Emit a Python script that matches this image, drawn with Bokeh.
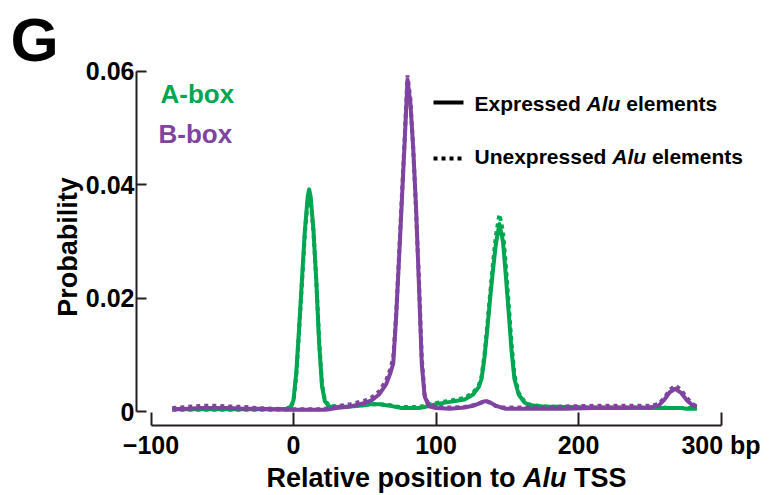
import math
from bokeh.plotting import figure
from bokeh.models import Range1d, Label, FixedTicker
from bokeh.embed import file_html
from bokeh.resources import INLINE

# ---------------- data ----------------
positions = [-85, -75, -65, -55, -45, -35, -25, -15, -5, -2, 0, 2, 4, 6, 8, 10, 11, 12, 14, 16,
             18, 20, 22, 25, 30, 40, 50, 55, 60, 65, 68, 70, 72, 74, 76, 78, 80, 82, 84, 86,
             88, 90, 92, 95, 100, 110, 120, 126, 130, 132, 134, 136, 138, 140, 142, 144.5, 147, 149, 151, 153,
             155, 158, 162, 166, 175, 190, 210, 230, 250, 256, 260, 264, 268, 272, 276, 280, 283]

a_box_expressed = [0.0004, 0.0004, 0.0004, 0.0004, 0.0004, 0.0004, 0.0004, 0.0004, 0.0005, 0.0008,
                   0.0020, 0.0070, 0.0150, 0.0235, 0.0320, 0.0380, 0.0392, 0.0380, 0.0320, 0.0230,
                   0.0120, 0.0045, 0.0018, 0.0009, 0.0008, 0.0009, 0.0011, 0.0013, 0.0013, 0.0011,
                   0.0010, 0.0009, 0.0008, 0.0007, 0.0006, 0.0006, 0.0006, 0.0006, 0.0006, 0.0006,
                   0.0006, 0.0007, 0.0008, 0.0010, 0.0013, 0.0017, 0.0021, 0.0030, 0.0043, 0.0058,
                   0.0095, 0.0145, 0.0200, 0.0250, 0.0295, 0.0331, 0.0300, 0.0240, 0.0175, 0.0108,
                   0.0058, 0.0030, 0.0016, 0.0011, 0.0009, 0.0008, 0.0007, 0.0007, 0.0006, 0.0006,
                   0.0006, 0.0006, 0.0006, 0.0006, 0.0005, 0.0005, 0.0005]

a_box_unexpressed = [0.0003, 0.0003, 0.0003, 0.0003, 0.0003, 0.0003, 0.0003, 0.0003, 0.0004, 0.0007,
                     0.0018, 0.0065, 0.0145, 0.0230, 0.0315, 0.0372, 0.0385, 0.0375, 0.0318, 0.0232,
                     0.0125, 0.0048, 0.0020, 0.0010, 0.0009, 0.0010, 0.0012, 0.0013, 0.0013, 0.0012,
                     0.0011, 0.0010, 0.0009, 0.0008, 0.0008, 0.0008, 0.0008, 0.0008, 0.0008, 0.0008,
                     0.0008, 0.0009, 0.0010, 0.0012, 0.0015, 0.0019, 0.0024, 0.0033, 0.0046, 0.0062,
                     0.0100, 0.0152, 0.0208, 0.0262, 0.0310, 0.0348, 0.0318, 0.0258, 0.0190, 0.0120,
                     0.0065, 0.0033, 0.0018, 0.0012, 0.0009, 0.0008, 0.0007, 0.0007, 0.0007, 0.0007,
                     0.0007, 0.0006, 0.0006, 0.0006, 0.0006, 0.0006, 0.0006]

b_box_expressed = [0.0004, 0.0005, 0.0006, 0.0006, 0.0006, 0.0005, 0.0005, 0.0004, 0.0003, 0.0003,
                   0.0003, 0.0003, 0.0003, 0.0003, 0.0003, 0.0003, 0.0003, 0.0003, 0.0003, 0.0003,
                   0.0003, 0.0003, 0.0003, 0.0004, 0.0006, 0.0009, 0.0015, 0.0020, 0.0030, 0.0048,
                   0.0068, 0.0085, 0.0165, 0.0266, 0.0370, 0.0475, 0.0586, 0.0545, 0.0465, 0.0360,
                   0.0225, 0.0085, 0.0027, 0.0009, 0.0006, 0.0005, 0.0007, 0.0010, 0.0014, 0.0016,
                   0.0018, 0.0018, 0.0016, 0.0013, 0.0010, 0.0008, 0.0006, 0.0005, 0.0005, 0.0005,
                   0.0005, 0.0005, 0.0005, 0.0005, 0.0005, 0.0005, 0.0006, 0.0006, 0.0007, 0.0010,
                   0.0020, 0.0034, 0.0040, 0.0033, 0.0020, 0.0011, 0.0008]

b_box_unexpressed = [0.0006, 0.0008, 0.0010, 0.0010, 0.0009, 0.0008, 0.0006, 0.0005, 0.0004, 0.0004,
                     0.0004, 0.0004, 0.0004, 0.0004, 0.0004, 0.0004, 0.0004, 0.0004, 0.0004, 0.0004,
                     0.0004, 0.0004, 0.0005, 0.0006, 0.0009, 0.0013, 0.0019, 0.0025, 0.0035, 0.0055,
                     0.0075, 0.0095, 0.0170, 0.0272, 0.0378, 0.0482, 0.0593, 0.0552, 0.0465, 0.0355,
                     0.0235, 0.0095, 0.0030, 0.0011, 0.0008, 0.0007, 0.0008, 0.0011, 0.0014, 0.0016,
                     0.0017, 0.0017, 0.0015, 0.0012, 0.0010, 0.0008, 0.0007, 0.0007, 0.0007, 0.0007,
                     0.0007, 0.0007, 0.0007, 0.0007, 0.0007, 0.0009, 0.0010, 0.0010, 0.0010, 0.0013,
                     0.0023, 0.0038, 0.0046, 0.0038, 0.0024, 0.0013, 0.0009]

x_ticks = [-100, 0, 100, 200, 300]
x_tick_labels = ["\u2212100", "0", "100", "200", "300 bp"]
y_ticks = [0, 0.02, 0.04, 0.06]
y_tick_labels = ["0", "0.02", "0.04", "0.06"]

GREEN = "#00a651"
PURPLE = "#7e44a0"
INK = "#231f20"
FONT = "Liberation Sans"

# ---------------- layout (page pixels) ----------------
X0_PX, X_PER = 293.0, 1.425          # page x of 0 bp, px per bp
Y0_PX, Y_PER = 411.0, 5667.0         # page y of probability 0, px per unit
W, H = 772, 495
FL, FT, FR, FB = 136, 68, 772, 425   # frame left, top, right, bottom


def dx(px):
    return (px - X0_PX) / X_PER


def dy(py):
    return (Y0_PX - py) / Y_PER


p = figure(width=W, height=H, output_backend="svg", toolbar_location=None,
           x_range=Range1d(dx(FL), dx(FR)), y_range=Range1d(dy(FB), dy(FT)),
           min_border_left=FL, min_border_right=W - FR,
           min_border_top=FT, min_border_bottom=H - FB)
p.outline_line_color = None
p.grid.visible = False
p.background_fill_color = "white"
p.border_fill_color = "white"

# axes
xa = p.xaxis[0]
xa.bounds = (x_ticks[0], x_ticks[-1])
xa.ticker = FixedTicker(ticks=x_ticks)
xa.major_label_overrides = dict(zip(x_ticks, x_tick_labels))
xa.minor_tick_line_color = None
xa.major_tick_in = 13
xa.major_tick_out = 0
xa.axis_line_width = 2
xa.major_tick_line_width = 2
xa.axis_line_color = INK
xa.major_tick_line_color = INK
xa.major_label_text_font = FONT
xa.major_label_text_font_style = "bold"
xa.major_label_text_font_size = "25px"
xa.major_label_text_color = "black"
xa.major_label_standoff = 5

ya = p.yaxis[0]
ya.bounds = (y_ticks[0], y_ticks[-1])
ya.ticker = FixedTicker(ticks=y_ticks)
ya.major_label_overrides = dict(zip(y_ticks, y_tick_labels))
ya.minor_tick_line_color = None
ya.major_tick_in = 10
ya.major_tick_out = 0
ya.axis_line_width = 2
ya.major_tick_line_width = 2
ya.axis_line_color = INK
ya.major_tick_line_color = INK
ya.major_label_text_font = FONT
ya.major_label_text_font_style = "bold"
ya.major_label_text_font_size = "25px"
ya.major_label_text_color = "black"
ya.major_label_standoff = 2
ya.axis_label = "Probability"
ya.axis_label_text_font = FONT
ya.axis_label_text_font_style = "bold"
ya.axis_label_text_font_size = "27px"
ya.axis_label_text_color = "black"
ya.axis_label_standoff = 0

# data lines
p.line(positions, a_box_expressed, color=GREEN, line_width=4, line_join="round")
p.line(positions, a_box_unexpressed, color=GREEN, line_width=4, line_dash="4 4")
p.line(positions, b_box_expressed, color=PURPLE, line_width=4, line_join="round")
p.line(positions, b_box_unexpressed, color=PURPLE, line_width=4, line_dash="4 4")


def lab(text, px, base_py, size, color="black", style="bold", side=None):
    # base_py: wanted page y of the text baseline; the label is anchored at the
    # middle of its text box, which lies about 0.35 em above the baseline
    label = Label(x=dx(px), y=dy(base_py - 0.35 * size), text=text, text_font=FONT,
                  text_font_style=style, text_font_size=f"{size}px", text_color=color,
                  text_align="left", text_baseline="middle")
    if side is None:
        p.add_layout(label)
    else:
        p.add_layout(label, side)


# panel letter (outside the frame -> side panel so it is not clipped)
lab("G", 10, 61, 62, side="left")

# series labels
lab("A-box", 160, 103, 26, color=GREEN)
lab("B-box", 158, 143, 26, color=PURPLE)

# line-style key
p.line([dx(433), dx(463)], [dy(102), dy(102)], color="black", line_width=4)
p.line([dx(433), dx(463)], [dy(158), dy(158)], color="black", line_width=4, line_dash="4 4")
S = 21
x1 = 474
lab("Expressed", x1, 110, S)
lab("Alu", x1 + 5.336 * S, 110, S, style="bold italic")
lab("elements", x1 + (5.336 + 1.611 + 0.278) * S, 110, S)
lab("Unexpressed", x1, 163, S)
lab("Alu", x1 + 6.558 * S, 163, S, style="bold italic")
lab("elements", x1 + (6.558 + 1.611 + 0.278) * S, 163, S)

# x-axis title (outside the frame; pieces spread over side panels that have room)
T = 27
x2 = 266
lab("Relative position to", x2, 487, T, side="below")
lab("Alu", x2 + 9.502 * T, 487, T, style="bold italic", side="above")
lab("TSS", x2 + (9.502 + 1.611 + 0.278) * T, 487, T, side="above")

open("out.html", "w").write(file_html(p, INLINE))
